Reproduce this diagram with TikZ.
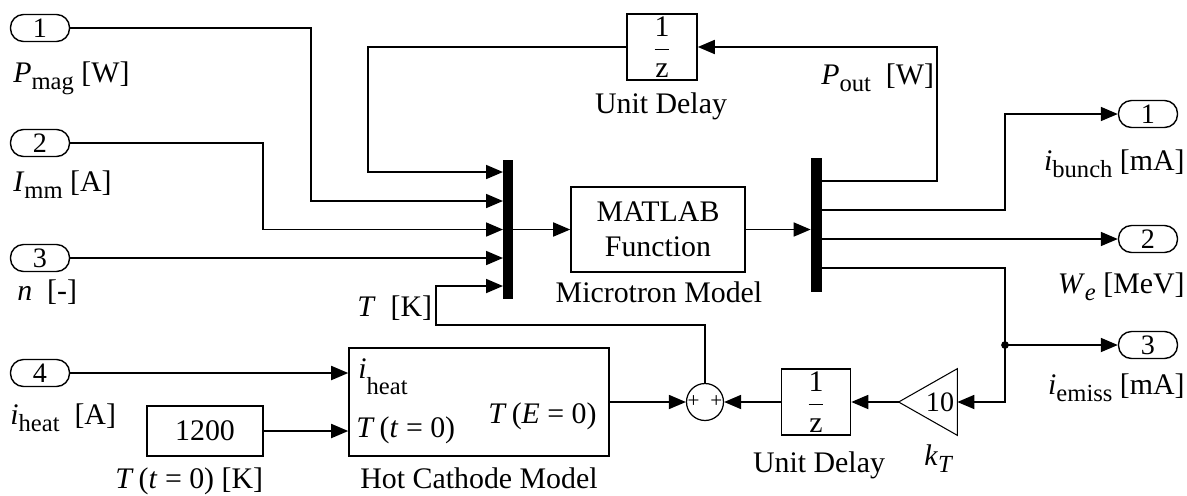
\documentclass[tikz,border=0pt]{standalone}
\usepackage{amsmath}
\usepackage{fontspec}
\setmainfont{Liberation Serif}
\usepackage{tikz}
\usetikzlibrary{arrows.meta,calc}
\tikzset{
  sbport/.style ={rectangle, rounded corners=0.26cm, draw, line width=0.8pt,
                  minimum width=1.18cm, minimum height=0.54cm, inner sep=0pt,
                  font=\fontsize{16}{18}\selectfont},
  sbblock/.style={rectangle, draw, line width=0.9pt, align=center, inner sep=0pt},
  sbbar/.style  ={rectangle, fill=black, minimum width=0.2cm, inner sep=0pt},
  sbwire/.style ={-{Triangle[length=0.34cm,width=0.28cm]}, line width=1pt},
  sblbl/.style  ={inner sep=0pt},
}
\newcommand{\sbvar}[3][0.25em]{\textit{#2}\raisebox{-#1}{\fontsize{14}{14}\selectfont #3}}
\newcommand{\sbdelay}{$\dfrac{\textrm{1}}{\textrm{z}}$}

\begin{document}
\begin{tikzpicture}[x=0.02cm, y=-0.02cm, font=\fontsize{17}{20}\selectfont]
  \useasboundingbox (0,0) rectangle (1187,495);
  \foreach \i/\y in {1/28,2/143,3/258,4/373}{
    \node[sbport] (in\i) at (40,\y) {\i};}
  \foreach \i/\y in {1/114,2/239,3/345}{
    \node[sbport] (out\i) at (1148,\y) {\i};}
  \node[sbbar, minimum height=2.78cm] (mux) at (508,229.5) {};
  \node[sbbar, minimum width=0.22cm, minimum height=2.68cm] (dmx) at (816.5,225) {};
  \foreach \i/\y in {1/172,2/201,3/229.5,4/258,5/286}{
    \coordinate (mi\i) at (503,\y);}
  \foreach \i/\y in {1/181,2/210,3/239,4/268}{
    \coordinate (do\i) at (822,\y);}
  \node[sbblock, minimum width=3.48cm, minimum height=1.7cm] (fcn) at (658,229.5) {MATLAB\\Function};
  \node[sbblock, minimum width=1.4cm, minimum height=1.32cm] (ud1) at (662,47) {\sbdelay};
  \node[sbblock, minimum width=1.38cm, minimum height=1.32cm] (ud2) at (816,402) {\sbdelay};
  \node[sbblock, minimum width=5.2cm, minimum height=2.16cm] (hcm) at (479,402) {};
  \node[sbblock, minimum width=2.32cm, minimum height=1cm] (cst) at (205,431) {1200};
  \node[circle, draw, line width=0.7pt, minimum size=0.74cm, inner sep=0pt,
        font=\fontsize{12}{12}\selectfont] (sum) at (705,402) {+\hspace{0.22cm}+};
  \node[minimum width=1.16cm, minimum height=1.32cm, inner sep=0pt] (gain) at (928,402) {};
  \draw[line width=0.6pt] (gain.west) -- (gain.north east) -- (gain.south east) -- cycle;
  \node[font=\fontsize{16}{18}\selectfont] (gainv) at (940,402) {10};
  \coordinate (jn) at (1005,345);
  \fill (jn) circle (2.2pt);

  \node[sblbl, anchor=base west] (lpmag) at (13,82) {\sbvar{P}{mag} [W]};
  \node[sblbl, anchor=base west] (limm) at (13,191) {\sbvar{I}{mm} [A]};
  \node[sblbl, anchor=base west] (ln) at (17,300) {\textit{n}\ \ [-]};
  \node[sblbl, anchor=base west] (liheat) at (10,424) {\sbvar{i}{heat} \ [A]};
  \node[sblbl, anchor=base west] (lt0) at (115,488) {\textit{T}\,(\textit{t} = 0) [K]};
  \node[sblbl, anchor=base] (lhcm) at (479,488) {Hot Cathode Model};
  \node[sblbl, anchor=base] (lud2) at (819,472) {Unit Delay};
  \node[sblbl, anchor=base west] (lkt) at (924,465) {\sbvar{k}{\textit{T}}};
  \node[sblbl, anchor=base] (lud1) at (661,113) {Unit Delay};
  \node[sblbl, anchor=base west] (lpout) at (821,84) {\sbvar{P}{out}\ \ [W]};
  \node[sblbl, anchor=base] (lfcn) at (659,302) {Microtron Model};
  \node[sblbl, anchor=base west] (ltk) at (357,316) {\textit{T}\ \ [K]};
  \node[sblbl, anchor=base east] (libunch) at (1185,170) {\sbvar{i}{bunch} [mA]};
  \node[sblbl, anchor=base east] (lwe) at (1185,293) {\sbvar{W}{\textit{e}}\ [MeV]};
  \node[sblbl, anchor=base east] (liemiss) at (1185,394) {\sbvar{i}{emiss} [mA]};
  \node[sblbl, anchor=base west] (hcmi) at (358,378) {\sbvar[0.55em]{i}{heat}};
  \node[sblbl, anchor=base west] (hcmt) at (356,437) {\textit{T}\,(\textit{t} = 0)};
  \node[sblbl, anchor=base east] (hcmo) at (597,423) {\textit{T}\,(\textit{E} = 0)};

  \draw[sbwire] (in1.east) -- ++(241,0) |- (mi2);
  \draw[sbwire] (in2.east) -- ++(193,0) |- (mi3);
  \draw[sbwire] (in3.east) -- (mi4);
  \draw[sbwire] (ud1.west) -- ++(-258,0) |- (mi1);
  \draw[sbwire] (sum.north) -- ++(0,-58) -- ++(-269,0) |- (mi5);
  \draw[sbwire] (mux.east) -- (fcn.west);
  \draw[sbwire] (fcn.east) -- (fcn.east -| dmx.west);
  \draw[sbwire] (do1) -- ++(115,0) |- (ud1.east);
  \draw[sbwire] (do2) -- ++(183,0) |- (out1.west);
  \draw[sbwire] (do3) -- (out2.west);
  \draw[sbwire] (do4) -- ++(183,0) |- (gain.east);
  \draw[sbwire] (jn) -- (out3.west);
  \draw[sbwire] (gain.west) -- (ud2.east);
  \draw[sbwire] (ud2.west) -- (sum.east);
  \draw[sbwire] (hcm.east) -- (sum.west);
  \draw[sbwire] (in4.east) -- (in4.east -| hcm.west);
  \draw[sbwire] (cst.east) -- (cst.east -| hcm.west);
\end{tikzpicture}
\end{document}
